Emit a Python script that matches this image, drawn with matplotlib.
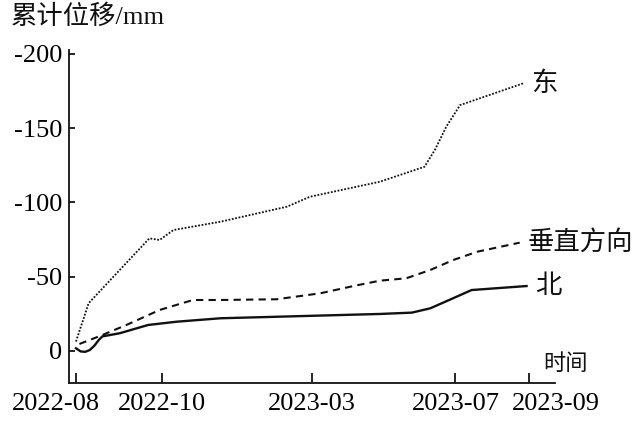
import matplotlib
matplotlib.use("Agg")
import matplotlib.pyplot as plt
import matplotlib.transforms as mtransforms

plt.rcParams['font.family'] = ['Liberation Serif', 'Noto Sans CJK SC', 'DejaVu Sans']

# x: days after first survey, y: cumulative displacement (mm, negative = up)
tick_days = [0, 75, 206, 331, 395]
tick_labels = ['2022-08', '2022-10', '2023-03', '2023-07', '2023-09']
y_ticks = [-200, -150, -100, -50, 0]
y_tick_labels = ['-200', '-150', '-100', '-50', '0']

days_east = [0, 11, 30, 64, 73, 85, 126, 184, 204, 265, 304, 313, 323, 335, 390]
east = [-6.3, -32.1, -47.8, -75.8, -74.7, -81.4, -87.0, -97.1, -103.8,
        -113.9, -124.0, -135.3, -151.0, -165.5, -180.1]

days_vert = [3, 21, 44, 73, 102, 126, 175, 213, 242, 265, 288, 309, 329, 350, 387]
vert = [-4.7, -10.1, -17.5, -27.6, -34.3, -34.3, -34.8, -38.8, -43.7,
        -47.3, -48.9, -54.5, -61.2, -66.8, -72.9]

days_north = [0, 4, 8, 12, 16, 20, 23, 38, 63, 88, 126, 265, 293, 309, 329, 345, 393]
north = [-1.8, 0.3, 0.6, -0.6, -3.5, -7.5, -9.8, -11.9, -17.5, -19.7, -22.0,
         -24.9, -25.8, -28.7, -35.5, -41.0, -43.7]

fig = plt.figure(figsize=(6.4, 4.21), dpi=100)
ax = fig.add_axes([0.1078, 0.0891, 0.7594, 0.7922])

ax.plot(days_east, east, color='#111', lw=1.3, dashes=(1, 0.9))
ax.plot(days_vert, vert, color='#111', lw=1.5, dashes=(3.5, 2.5))
ax.plot(days_north, north, color='#111', lw=1.7)

# line labels at the right end of each line
for d, v, name in [(days_east, east, '东'), (days_vert, vert, '垂直方向'),
                   (days_north, north, '北')]:
    ax.annotate(name, xy=(d[-1], v[-1]), xytext=(6, 0), textcoords='offset points',
                va='center', ha='left', fontsize=19, color='#111')

ax.set_xlim(-6.1, 417.8)
ax.set_ylim(21.9, -202.6)

ax.set_xticks(tick_days)
ax.set_xticklabels(tick_labels)
ax.set_yticks(y_ticks)
ax.set_yticklabels(y_tick_labels)

ax.tick_params(axis='x', direction='in', length=7, width=1.2, pad=7, labelsize=19)
ax.tick_params(axis='y', direction='in', length=4, width=1.2, pad=5, labelsize=19)

for s in ['top', 'right']:
    ax.spines[s].set_visible(False)
for s in ['left', 'bottom']:
    ax.spines[s].set_linewidth(1.3)
    ax.spines[s].set_color('#111')

# first and last date labels sit shifted off their ticks
labels = ax.get_xticklabels()
labels[0].set_transform(labels[0].get_transform() +
                        mtransforms.ScaledTranslation(-0.20, 0, fig.dpi_scale_trans))
labels[-1].set_transform(labels[-1].get_transform() +
                         mtransforms.ScaledTranslation(0.27, 0, fig.dpi_scale_trans))

fig.text(0.017, 0.96, '累计位移/mm', fontsize=19, va='center', ha='left', color='#111')
fig.text(0.849, 0.135, '时间', fontsize=16, va='center', ha='left', color='#111')

fig.savefig('out.png', dpi=100)
